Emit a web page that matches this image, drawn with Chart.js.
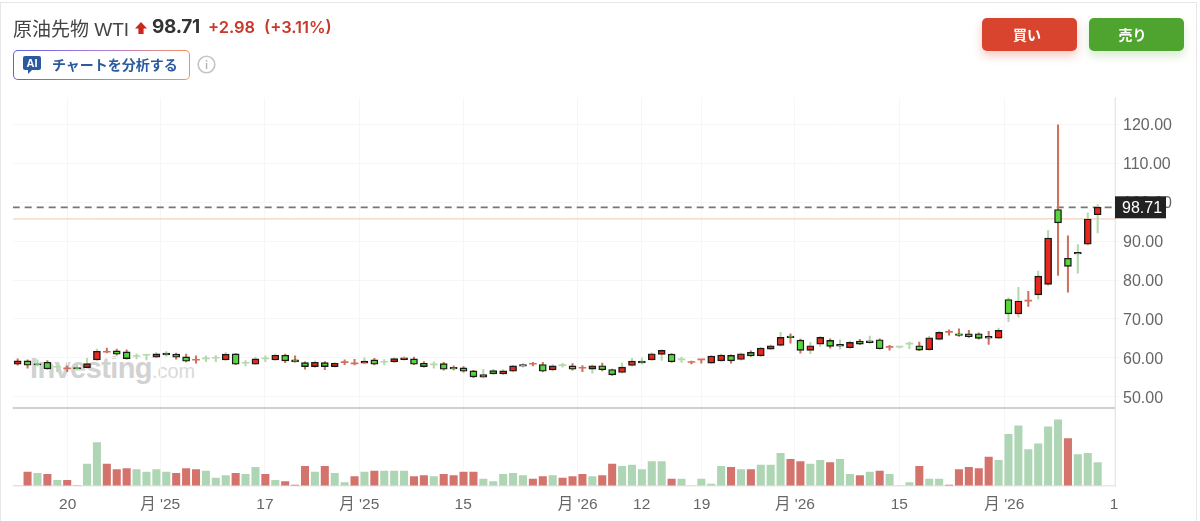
<!DOCTYPE html>
<html lang="ja">
<head>
<meta charset="utf-8">
<title>原油先物 WTI</title>
<script src="https://cdn.jsdelivr.net/npm/chart.js@4"></script>
<style>
  html, body { margin: 0; padding: 0; background: #fff; }
  body { width: 1200px; height: 521px; overflow: hidden; position: relative;
         font-family: "Liberation Sans", "Noto Sans CJK JP", sans-serif; }
  .card { position: absolute; left: 0; top: 2px; width: 1197px; height: 530px;
          border: 1.5px solid #e6e6e6; box-sizing: border-box; }
  .abs { position: absolute; white-space: nowrap; }
  #chartBox { position: absolute; left: 0; top: 0; width: 1200px; height: 521px; }
  .btn { position: absolute; top: 18px; height: 33px; width: 95px; border-radius: 5px; color: #fff;
         font: bold 14px "Noto Sans CJK JP", sans-serif; line-height: 33px; text-align: center;
         box-sizing: border-box; }
  .buy { left: 982px; padding-right: 5px; background: #d9442f; box-shadow: 0 5px 10px rgba(217,68,47,.28); }
  .sell { left: 1089px; padding-right: 8px; background: #4ea42f; box-shadow: 0 5px 10px rgba(78,164,47,.22); }
  .aiBtn { position: absolute; left: 13px; top: 50px; width: 177px; height: 30px; box-sizing: border-box;
           border-radius: 5px; border: 1.5px solid transparent;
           background: linear-gradient(#fff,#fff) padding-box,
                       linear-gradient(90deg,#5b62e8,#b77fd8 55%,#f0925a) border-box; }
</style>
</head>
<body>
<div class="card"></div>
<div class="abs" style="left:30px;top:352px;font:bold 29px 'Liberation Sans';color:#d2d2d2;letter-spacing:-.6px">Investing<span style="font:20px 'Liberation Sans';color:#dadada;letter-spacing:0">.com</span></div>
<div id="chartBox"><canvas id="grafico" width="1200" height="521"></canvas></div>

<div class="abs" style="left:13px;top:14px;font-size:19px;color:#444">原油先物 WTI</div>
<svg class="abs" style="left:135px;top:22px" width="12" height="12" viewBox="0 0 12 12"><path d="M6 0 L12 6.5 H8.6 V12 H3.4 V6.5 H0 Z" fill="#c8281e"/></svg>
<div class="abs" style="left:152px;top:15px;font:700 19px Inter;color:#333;letter-spacing:-.3px">98.71</div>
<div class="abs" style="left:208px;top:17px;font:600 16.5px Inter;color:#c8392b">+2.98</div>
<div class="abs" style="left:264px;top:17px;font:600 16.5px Inter;color:#c8392b">(+3.11%)</div>

<div class="aiBtn"></div>
<svg class="abs" style="left:23px;top:56px" width="18" height="18" viewBox="0 0 18 18"><path d="M2 0 H16 a2 2 0 0 1 2 2 V12 a2 2 0 0 1 -2 2 H9 L5 18 V14 H2 a2 2 0 0 1 -2 -2 V2 a2 2 0 0 1 2 -2 Z" fill="#2c5aa0"/><text x="9" y="11" font-size="11" font-weight="bold" fill="#fff" text-anchor="middle" font-family="Liberation Sans">AI</text></svg>
<div class="abs" style="left:52px;top:54px;font:bold 14px 'Noto Sans CJK JP';color:#2b5a9e">チャートを分析する</div>
<svg class="abs" style="left:197px;top:55px" width="19" height="19" viewBox="0 0 19 19"><circle cx="9.5" cy="9.5" r="8.3" fill="none" stroke="#c4c4c4" stroke-width="1.6"/><rect x="8.8" y="8" width="1.5" height="6" fill="#b5b5b5"/><rect x="8.8" y="5" width="1.5" height="1.6" fill="#b5b5b5"/></svg>

<div class="btn buy">買い</div>
<div class="btn sell">売り</div>

<script>
// velas semanales
const opens = [58.35,59.21,58.44,58.87,57.58,57.15,57.49,57.49,59.47,61.44,
  61.79,61.53,60.33,60.67,60.16,61.19,60.93,60.24,59.38,59.73,
  59.90,59.47,61.02,58.61,58.35,59.73,59.47,60.67,59.47,58.78,
  57.75,58.78,57.75,58.78,58.44,58.61,59.47,58.87,58.95,59.55,
  59.73,58.61,58.18,58.52,57.58,57.41,56.63,55.00,56.72,55.86,
  56.55,58.27,58.35,58.27,56.89,58.01,57.92,57.32,57.09,57.95,
  57.00,56.23,58.03,59.15,59.49,60.87,60.95,59.49,58.80,59.49,
  58.63,59.23,60.61,59.58,61.38,60.52,62.24,63.19,65.59,64.56,
  61.90,63.53,64.47,63.44,62.58,64.30,64.39,64.65,62.67,62.76,
  63.53,63.10,62.07,64.73,66.53,66.19,66.19,66.19,65.50,65.07,
  75.00,71.30,74.60,76.20,78.90,98.15,85.60,87.10,89.20,96.80];
const closes = [59.21,58.09,58.18,57.15,57.58,57.15,57.24,58.52,61.70,61.44,
  60.93,59.81,60.33,60.67,61.02,60.76,60.16,59.13,59.38,59.73,
  59.90,60.93,58.35,58.61,59.73,59.73,60.67,59.21,58.95,57.75,
  58.87,57.75,58.61,58.78,58.44,59.13,58.35,58.87,59.81,59.98,
  58.35,57.75,58.18,57.06,57.15,56.55,55.09,55.69,55.86,56.63,
  57.92,57.84,58.35,56.55,57.92,58.01,57.06,57.32,57.95,56.92,
  55.63,57.60,59.15,58.72,61.04,61.90,58.98,59.49,58.80,59.49,
  60.44,60.69,59.23,61.04,60.52,62.50,63.10,65.25,65.16,61.90,
  63.10,65.25,62.93,63.01,63.96,63.53,63.87,62.33,62.67,62.76,
  63.53,61.98,65.16,66.53,66.53,65.76,65.42,64.99,65.07,67.05,
  71.30,74.60,74.60,81.00,90.80,94.70,83.50,86.70,95.70,98.71];
const highs = [59.73,59.47,59.47,59.30,57.92,57.92,58.18,59.90,62.22,62.48,
  62.22,62.05,61.02,60.67,61.36,61.62,61.19,60.93,60.50,60.50,
  60.59,61.36,61.10,59.30,60.16,60.50,60.93,60.93,60.50,58.95,
  59.13,59.04,58.78,59.47,59.64,59.98,59.90,59.55,60.07,60.33,
  60.16,59.04,58.95,58.87,57.92,57.75,56.81,57.06,57.06,56.98,
  58.09,58.61,58.87,58.87,58.27,58.61,58.52,58.01,58.20,58.63,
  57.09,58.63,59.84,59.92,61.30,62.15,61.12,60.18,59.15,59.49,
  60.61,60.95,60.78,61.21,61.81,62.67,63.36,66.54,66.19,64.82,
  63.96,65.50,64.90,64.65,64.30,64.73,65.59,64.90,63.18,62.93,
  64.04,64.04,65.50,66.79,67.22,67.48,67.05,66.45,66.79,67.65,
  75.40,78.10,77.10,82.30,92.80,119.90,91.40,89.10,97.30,99.40];
const lows = [58.09,57.32,57.92,57.06,56.46,56.46,57.06,57.32,59.30,61.27,
  60.67,59.64,59.73,59.47,59.98,60.41,59.64,58.95,58.61,59.04,
  59.04,59.30,58.27,57.92,58.27,59.04,59.30,58.78,58.87,57.06,
  57.49,56.98,57.58,58.27,58.18,58.44,58.18,58.18,58.78,59.38,
  58.27,57.58,57.32,56.81,56.89,56.29,54.92,54.83,55.77,55.69,
  56.38,57.58,57.92,56.38,56.63,57.58,56.81,56.46,56.06,56.66,
  55.45,56.06,57.86,58.38,59.32,59.32,58.80,58.80,58.46,58.63,
  58.55,59.06,58.63,59.41,60.35,60.35,62.07,63.01,63.79,61.21,
  61.04,62.93,62.50,62.24,62.41,63.36,63.70,62.24,61.98,62.50,
  62.33,61.81,61.90,64.56,65.85,65.50,65.25,64.82,63.44,64.90,
  69.30,70.50,73.20,75.10,78.60,81.20,76.90,81.80,89.00,92.10];
const volumes = [0,14,12.7,11.7,5.7,5.7,0.7,22,43.3,22,
  16.3,17.3,16.3,14,16.3,14,12.7,17.3,16.3,15,
  8,10.3,12.7,11.7,18.7,11.7,5.7,4.3,1,19.7,
  14,19.7,12.7,3.3,9.3,14,15,15,15,15,
  9.3,10.3,9.3,11.7,10.3,14,14,7,4.3,11.7,
  12.7,10.3,7,9.3,10.3,8,9.3,11.7,9.3,10.3,
  22,19.7,21,16.3,24.3,24.3,7,7,0,7,
  2,19.7,18.7,16.3,16.3,21,21,32.7,26.7,24.3,
  22,25.7,23.3,26.7,11.7,10.3,14,15,11.7,0,
  3.3,19.7,7,7,1,16.3,18.7,17.3,29,25.7,
  51.7,60,36.3,42,59,66,47.3,31.3,32.7,23.3];
const volumeSides = ['g','r','g','r','g','r','g','g','g','r',
  'r','r','g','g','g','g','r','r','r','g',
  'g','g','r','g','g','r','g','r','r','r',
  'g','r','g','g','r','g','r','g','g','g',
  'r','r','g','r','r','r','r','g','g','g',
  'g','g','r','r','g','r','r','r','g','r',
  'r','g','g','g','g','g','r','g','g','g',
  'g','g','r','g','r','g','g','g','r','r',
  'g','g','r','g','g','r','g','r','g','g',
  'g','r','g','g','r','r','r','r','r','g',
  'g','g','g','g','g','g','r','g','g','g'];
const wickSides = ['r','r','g','r','g','r','g','g','g','r',
  'r','r','g','g','g','g','r','r','r','g',
  'g','g','r','g','g','g','g','r','r','r',
  'g','r','g','r','r','g','r','g','g','g',
  'r','r','g','r','r','r','r','g','g','g',
  'g','g','r','r','g','g','r','r','g','r',
  'r','g','g','g','g','g','r','g','r','r',
  'g','g','r','g','r','g','g','g','r','r',
  'g','g','r','g','g','r','g','r','r','g',
  'g','r','g','g','r','r','r','r','r','g',
  'g','g','r','g','g','r','r','g','g','g'];

const priceTicks = [50,60,70,80,90,100,110,120];
const lastPrice = 98.71;
const prevClose = 95.73;

// fechas del eje x: caen entre velas, por eso no son enteros
const dateTicks = [5.05,14.39,24.96,34.48,44.97,56.52,62.98,69.04,78.45,88.98,99.58,110.65];
const dateLabels = ['20',"月 '25",'17',"月 '25",'15',"月 '26",'12','19',"月 '26",'15',"月 '26",'1'];

const RED = '#e8281c', GREEN = '#55d63c', WICK_RED = '#d0705f', WICK_GREEN = '#b5d8ac';
const VOL_RED = '#d4726c', VOL_GREEN = '#aed6b5';

const wickCol = wickSides.map(s => s === 'r' ? WICK_RED : WICK_GREEN);

const etiquetaPrecio = {
    id: 'etiquetaPrecio',
    afterDraw(chart) {
        const ctx = chart.ctx;
        const y = chart.scales.y.getPixelForValue(lastPrice);
        const x = chart.chartArea.right;
        ctx.save();
        ctx.fillStyle = '#222';
        ctx.fillRect(x, y - 11, 51, 22);
        ctx.fillStyle = '#fff';
        ctx.font = '16px "Liberation Sans"';
        ctx.textBaseline = 'middle';
        ctx.fillText(lastPrice.toFixed(2), x + 7, y + 1.5);
        ctx.restore();
    }
};

const fixedWidth = s => { s.width = 85; };

new Chart(document.getElementById('grafico'), {
    type: 'bar',
    data: {
        datasets: [
            {
                // cuerpos
                data: opens.map((o, i) => ({x: i, y: [o, closes[i]]})),
                yAxisID: 'y',
                order: 1,
                grouped: false,
                barThickness: 7,
                minBarLength: 1,
                borderSkipped: false,
                backgroundColor: opens.map((o, i) => o === closes[i] ? wickCol[i] : (closes[i] > o ? RED : GREEN)),
                borderColor: opens.map((o, i) => o === closes[i] ? wickCol[i] : '#1a1a1a'),
                borderWidth: opens.map((o, i) => o === closes[i] ? 0 : 1.4)
            },
            {
                // mechas
                data: lows.map((l, i) => ({x: i, y: [l, highs[i]]})),
                yAxisID: 'y',
                order: 2,
                grouped: false,
                barThickness: 1.4,
                borderWidth: 0,
                backgroundColor: wickCol
            },
            {
                type: 'line',
                data: [{x: -0.5, y: lastPrice}, {x: 110.75, y: lastPrice}],
                yAxisID: 'y',
                order: 3,
                borderColor: '#777',
                borderWidth: 1.8,
                borderDash: [7, 5],
                pointRadius: 0
            },
            {
                type: 'line',
                data: [{x: -0.5, y: prevClose}, {x: 110.75, y: prevClose}],
                yAxisID: 'y',
                order: 4,
                borderColor: '#f3c6b0',
                borderWidth: 1,
                pointRadius: 0
            },
            {
                // volumen
                data: volumes.map((v, i) => ({x: i, y: v})),
                yAxisID: 'yVol',
                order: 5,
                grouped: false,
                barThickness: 7.4,
                borderWidth: 0,
                backgroundColor: volumeSides.map(s => s === 'r' ? VOL_RED : VOL_GREEN)
            }
        ]
    },
    options: {
        responsive: false,
        animation: false,
        layout: {padding: {left: 12.7, right: 0, top: 97.5, bottom: 0}},
        plugins: {legend: {display: false}, tooltip: {enabled: false}},
        scales: {
            x: {
                type: 'linear',
                min: -0.5,
                max: 110.75,
                offset: false,
                afterFit: s => { s.height = 35; },
                afterBuildTicks: s => { s.ticks = dateTicks.map(value => ({value})); },
                grid: {color: '#f6f6f6', offset: false, drawTicks: false},
                border: {display: false},
                ticks: {
                    autoSkip: false,
                    maxRotation: 0,
                    padding: 9,
                    color: '#666',
                    font: {family: '"Liberation Sans", "Noto Sans CJK JP"', size: 15.5},
                    callback: function(v) { return dateLabels[dateTicks.indexOf(v)]; }
                }
            },
            y: {
                type: 'linear',
                position: 'right',
                stack: 'paneles',
                stackWeight: 310,
                min: 47.12,
                max: 126.95,
                afterFit: fixedWidth,
                afterBuildTicks: s => { s.ticks = priceTicks.map(value => ({value})); },
                grid: {color: '#f6f6f6', tickLength: 5},
                border: {color: '#e4e7ee'},
                ticks: {
                    padding: 3,
                    labelOffset: 1.5,
                    color: '#666',
                    font: {family: '"Liberation Sans"', size: 16},
                    callback: v => v.toFixed(2)
                }
            },
            yVol: {
                type: 'linear',
                position: 'right',
                stack: 'paneles',
                stackWeight: 78,
                min: 0,
                max: 78,
                afterFit: fixedWidth,
                afterBuildTicks: s => { s.ticks = [{value: 0}, {value: 78}]; },
                grid: {
                    tickLength: 0,
                    color: c => c.tick.value === 78 ? '#cfcfcf' : '#e8e8e8',
                    lineWidth: c => c.tick.value === 78 ? 2 : 1.5
                },
                border: {color: '#e4e7ee'},
                ticks: {callback: () => ''}
            }
        }
    },
    plugins: [etiquetaPrecio]
});
</script>
</body>
</html>
